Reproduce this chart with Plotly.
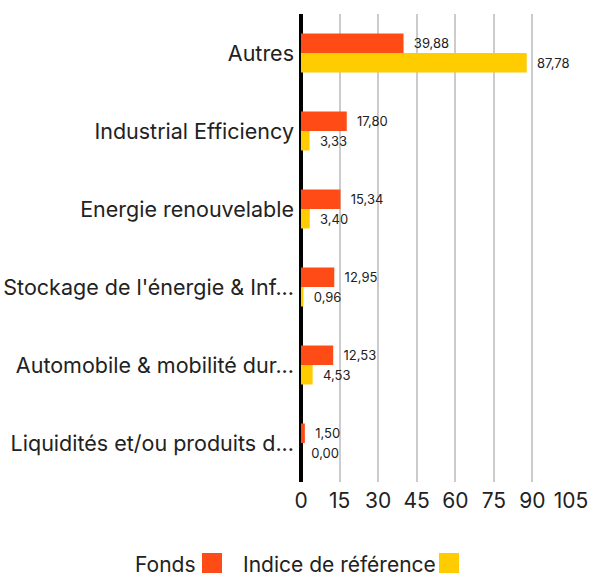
import plotly.graph_objects as go

categories = ["Autres", "Industrial Efficiency", "Energie renouvelable",
              "Stockage de l'énergie & Inf...", "Automobile & mobilité dur...",
              "Liquidités et/ou produits d..."]
fonds = [39.88, 17.80, 15.34, 12.95, 12.53, 1.50]
indice = [87.78, 3.33, 3.40, 0.96, 4.53, 0.00]
tick_vals = [0, 15, 30, 45, 60, 75, 90, 105]
series_names = ["Fonds", "Indice de référence"]
colors = ["#FF4C17", "#FFCC00"]

FONT = "Inter"

def fmt(v):
    return "\u00a0\u00a0" + f"{v:.2f}".replace(".", ",")

fig = go.Figure()
for name, vals, col in zip(series_names, [fonds, indice], colors):
    fig.add_trace(go.Bar(
        y=categories, x=vals, orientation="h", name=name,
        marker=dict(color=col, line=dict(width=0)),
        text=[fmt(v) for v in vals], textposition="outside",
        textfont=dict(size=13, color="#222222", family=FONT),
        cliponaxis=False, showlegend=False,
    ))

W, H = 590, 579
pl, pr, pt, pb = 301, 19, 14, 97
fig.update_layout(
    width=W, height=H,
    margin=dict(l=pl, r=pr, t=pt, b=pb, autoexpand=False),
    paper_bgcolor="white", plot_bgcolor="white",
    barmode="group", bargap=0.5, bargroupgap=0,
    font=dict(family=FONT, color="#222222"),
    xaxis=dict(range=[0, 105], tickvals=tick_vals, showgrid=True,
               gridcolor="#CCCCCC", gridwidth=2,
               zeroline=True, zerolinecolor="#000000", zerolinewidth=4,
               showline=False, ticks="", tickfont=dict(size=21, color="#222222"),
               ticklabelstandoff=4, automargin=False),
    yaxis=dict(autorange="reversed", showgrid=False, zeroline=False,
               showline=False, ticks="", tickfont=dict(size=21.5, color="#222222"),
               ticklabelstandoff=6, automargin=False),
)

pw, ph = W - pl - pr, H - pt - pb
def px(x): return (x - pl) / pw
def py(y): return (H - pb - y) / ph

legend_items = [(series_names[0], colors[0], 133, 202), (series_names[1], colors[1], 241, 439)]
for name, col, tx, sx in legend_items:
    fig.add_annotation(x=px(tx), y=py(564), xref="paper", yref="paper", text=name,
                       showarrow=False, xanchor="left", yanchor="middle",
                       font=dict(size=21, color="#222222", family=FONT))
    fig.add_shape(type="rect", xref="paper", yref="paper",
                  x0=px(sx), x1=px(sx + 20), y0=py(573), y1=py(553),
                  fillcolor=col, line=dict(width=0))

fig.write_html("out.html", config={"displayModeBar": False},
               post_script="document.body.style.margin='0';")
